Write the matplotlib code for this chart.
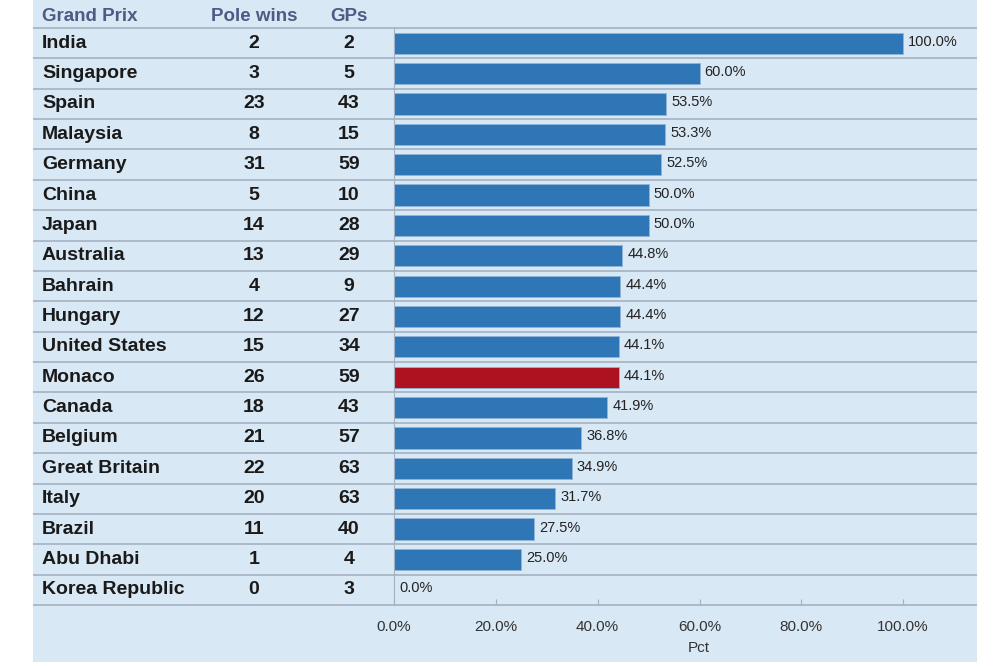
import numpy as np
import matplotlib.pyplot as plt
import matplotlib.transforms as mtransforms
from matplotlib.ticker import FuncFormatter

plt.rcParams['font.family'] = ['Liberation Sans', 'DejaVu Sans']

# Data
grand_prix = ["India", "Singapore", "Spain", "Malaysia", "Germany", "China", "Japan",
              "Australia", "Bahrain", "Hungary", "United States", "Monaco", "Canada",
              "Belgium", "Great Britain", "Italy", "Brazil", "Abu Dhabi", "Korea Republic"]
pole_wins = [2, 3, 23, 8, 31, 5, 14, 13, 4, 12, 15, 26, 18, 21, 22, 20, 11, 1, 0]
gps = [2, 5, 43, 15, 59, 10, 28, 29, 9, 27, 34, 59, 43, 57, 63, 63, 40, 4, 3]
pct = [100.0, 60.0, 53.5, 53.3, 52.5, 50.0, 50.0, 44.8, 44.4, 44.4, 44.1, 44.1,
       41.9, 36.8, 34.9, 31.7, 27.5, 25.0, 0.0]
highlight = "Monaco"

bg_col = "#d9e8f5"
bar_col = "#2e76b6"
red_col = "#ae1220"
line_col = "#a3b1c2"
head_col = "#4d5b85"

fig = plt.figure(figsize=(10, 6.66), dpi=100)

# panel background
bg = fig.add_axes([0.033, 0.006, 0.944, 0.994])
bg.set_facecolor(bg_col)
bg.set_xticks([])
bg.set_yticks([])
for s in bg.spines.values():
    s.set_visible(False)

H = 666.0
ax = fig.add_axes([0.394, (H - 605) / H, 0.976 - 0.394, (605 - 28) / H])
ax.patch.set_alpha(0)

n = len(grand_prix)
y = np.arange(n)
colors = [red_col if g == highlight else bar_col for g in grand_prix]
ax.barh(y, pct, height=0.7, color=colors, edgecolor="#8fb4d8", linewidth=0.6)
ax.set_ylim(n - 0.5, -0.5)
ax.set_xlim(0, 114.3)

for yi, v in zip(y, pct):
    ax.text(v + 1.0, yi - 0.05, f"{v:.1f}%", va="center", ha="left", fontsize=10.5, color="#222222")

ax.set_yticks([])
ax.set_xticks([0, 20, 40, 60, 80, 100])
ax.xaxis.set_major_formatter(FuncFormatter(lambda v, p: f"{v:.1f}%"))
ax.tick_params(axis="x", direction="in", length=4, color=line_col, labelsize=11,
               labelcolor="#333333", pad=11)
ax.set_xlabel("Pct", fontsize=11, color="#333333")
ax.xaxis.set_label_coords(0.523, -0.062)
for s in ["top", "right"]:
    ax.spines[s].set_visible(False)
ax.spines["left"].set_color(line_col)
ax.spines["bottom"].set_visible(False)

# row lines and table text
tr = mtransforms.blended_transform_factory(fig.transFigure, ax.transData)
ax.hlines(np.arange(-0.5, n + 0.5, 1), 0.033, 0.977, transform=tr, color=line_col,
          linewidth=1.2, clip_on=False)

for yi, g, p, t in zip(y, grand_prix, pole_wins, gps):
    ax.text(0.042, yi, g, transform=tr, va="center", ha="left", fontsize=14,
            fontweight="bold", color="#1a1a1a")
    ax.text(0.254, yi, str(p), transform=tr, va="center", ha="center", fontsize=14,
            fontweight="bold", color="#1a1a1a")
    ax.text(0.349, yi, str(t), transform=tr, va="center", ha="center", fontsize=14,
            fontweight="bold", color="#1a1a1a")

ax.text(0.042, -0.88, "Grand Prix", transform=tr, va="center", ha="left", fontsize=13.5,
        fontweight="bold", color=head_col)
ax.text(0.254, -0.88, "Pole wins", transform=tr, va="center", ha="center", fontsize=13.5,
        fontweight="bold", color=head_col)
ax.text(0.349, -0.88, "GPs", transform=tr, va="center", ha="center", fontsize=13.5,
        fontweight="bold", color=head_col)

plt.savefig("out.png", dpi=100)
